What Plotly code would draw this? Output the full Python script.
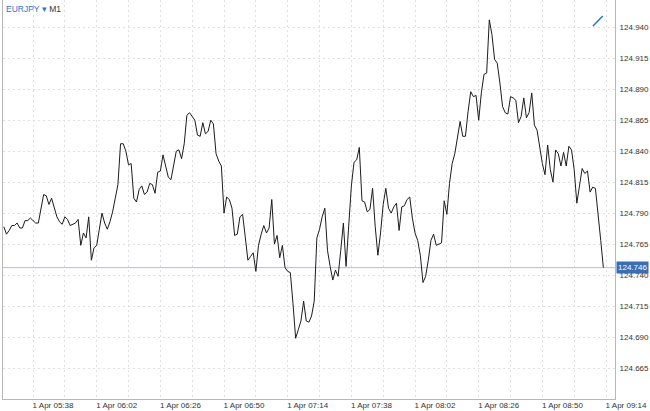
import pandas as pd
import plotly.graph_objs as go

# EURJPY M1 closes, one per minute from 05:27 to 09:13 on 1 Apr
start_time = "2024-04-01 05:27"
closes_a = [124.779, 124.773, 124.776, 124.780, 124.780, 124.782, 124.778, 124.778, 124.784, 124.784,
            124.786, 124.784, 124.782, 124.782, 124.793, 124.805, 124.804, 124.797, 124.802, 124.795,
            124.787, 124.783, 124.781, 124.787, 124.785, 124.780, 124.781, 124.782, 124.785, 124.764,
            124.774, 124.770, 124.787, 124.752, 124.762, 124.764, 124.777, 124.790, 124.782, 124.777,
            124.783, 124.791, 124.802, 124.813, 124.846, 124.846, 124.840, 124.829, 124.830, 124.802,
            124.799, 124.809, 124.812, 124.805, 124.807, 124.814, 124.813, 124.806, 124.823, 124.824,
            124.837, 124.829, 124.819, 124.817, 124.829, 124.840, 124.841, 124.834, 124.846, 124.869,
            124.871, 124.868, 124.865, 124.853, 124.852]
closes_b = [124.863, 124.854, 124.856, 124.865, 124.862, 124.838, 124.832, 124.828, 124.790, 124.803,
            124.801, 124.794, 124.772, 124.773, 124.787, 124.789, 124.771, 124.752, 124.755, 124.758,
            124.743, 124.764, 124.773, 124.780, 124.774, 124.778, 124.801, 124.765, 124.772, 124.754,
            124.764, 124.746, 124.743, 124.742, 124.717, 124.689, 124.696, 124.703, 124.719, 124.703,
            124.702, 124.707, 124.719, 124.770, 124.777, 124.787, 124.794, 124.760, 124.747, 124.736,
            124.744, 124.739, 124.760, 124.782, 124.747, 124.781, 124.812, 124.831, 124.833, 124.843,
            124.800, 124.799, 124.791, 124.793, 124.810, 124.779, 124.756, 124.774, 124.797, 124.810,
            124.794, 124.790, 124.795, 124.798, 124.776, 124.795]
closes_c = [124.796, 124.801, 124.803, 124.786, 124.774, 124.768, 124.756, 124.734, 124.739, 124.752,
            124.768, 124.773, 124.764, 124.765, 124.766, 124.800, 124.789, 124.814, 124.830, 124.838,
            124.850, 124.864, 124.852, 124.852, 124.872, 124.888, 124.884, 124.885, 124.865, 124.887,
            124.902, 124.903, 124.946, 124.934, 124.914, 124.911, 124.895, 124.876, 124.871, 124.870,
            124.884, 124.883, 124.881, 124.863, 124.868, 124.883, 124.867, 124.871, 124.887, 124.861,
            124.857, 124.844, 124.830, 124.821, 124.845, 124.825, 124.815, 124.841, 124.838, 124.828,
            124.839, 124.828, 124.844, 124.841, 124.825, 124.798, 124.813, 124.826, 124.822, 124.824,
            124.807, 124.811, 124.810, 124.791, 124.768, 124.746]

price_ticks = [124.665, 124.690, 124.715, 124.740, 124.765, 124.790,
               124.815, 124.840, 124.865, 124.890, 124.915, 124.940]
time_tick_start = "2024-04-01 05:38"
time_labels = ["1 Apr 05:38", "1 Apr 06:02", "1 Apr 06:26", "1 Apr 06:50", "1 Apr 07:14",
               "1 Apr 07:38", "1 Apr 08:02", "1 Apr 08:26", "1 Apr 08:50", "1 Apr 09:14"]

closes = closes_a + closes_b + closes_c
times = pd.date_range(start_time, periods=len(closes), freq="min")
last_price = closes[-1]

# grid every 12 minutes, label every other one
grid_times = pd.date_range(time_tick_start, periods=2 * len(time_labels) - 1, freq="12min")
grid_text = []
for i in range(len(grid_times)):
    grid_text.append(time_labels[i // 2] if i % 2 == 0 else "")

font_family = "Liberation Sans, Arial, sans-serif"
grid_color = "#e0e0e0"
frame_color = "#b8b8b8"

fig = go.Figure()
fig.add_trace(go.Scatter(x=times, y=closes, mode="lines",
                         line=dict(color="#1c1c1c", width=1), hoverinfo="x+y"))

fig.update_layout(
    width=650, height=411,
    margin=dict(l=3, r=35, t=0, b=12),
    paper_bgcolor="white", plot_bgcolor="white",
    showlegend=False,
    font=dict(family=font_family, size=8, color="#333333"),
    xaxis=dict(
        type="date",
        range=["2024-04-01 05:26:41", "2024-04-01 09:17:23"],
        tickmode="array", tickvals=grid_times, ticktext=grid_text,
        ticklabelshift=20, ticklabelstandoff=-2, ticks="",
        showgrid=True, gridcolor=grid_color, griddash="2px,3px", gridwidth=1,
        showline=True, linecolor=frame_color, linewidth=1,
        zeroline=False,
    ),
    yaxis=dict(
        side="right",
        range=[124.640, 124.962],
        tickmode="array", tickvals=price_ticks, tickformat=".3f",
        ticks="", ticklabelstandoff=2,
        showgrid=True, gridcolor=grid_color, griddash="2px,3px", gridwidth=1,
        showline=True, mirror=True, linecolor=frame_color, linewidth=1,
        zeroline=False,
    ),
)

# current price line and marker
fig.add_shape(type="line", xref="paper", x0=0, x1=1, yref="y", y0=last_price, y1=last_price,
              line=dict(color="#a9bfdc", width=1), layer="between")
fig.add_annotation(xref="paper", x=1, yref="y", y=last_price, text=f"{last_price:.3f}",
                   showarrow=False, xanchor="left", yanchor="middle", xshift=1,
                   bgcolor="#3a6db3", borderpad=1,
                   font=dict(family=font_family, size=8, color="white"))

# symbol / timeframe caption
fig.add_annotation(xref="paper", yref="paper", x=0, y=1, xanchor="left", yanchor="top",
                   showarrow=False, xshift=1, yshift=-2,
                   text="<span style='color:#2a78d2'>EURJPY ▾</span> <span style='color:#333333'>M1</span>",
                   font=dict(family=font_family, size=8.5))

# drawing tool icon
fig.add_shape(type="line", xref="paper", yref="paper", x0=0.964, y0=0.935, x1=0.980, y1=0.960,
              line=dict(color="#2a74d0", width=1.5))

# page has a default body margin; remove it so the chart fills the window
fig.write_html("out.html", config={"displayModeBar": False},
               post_script="document.body.style.margin='0';")
